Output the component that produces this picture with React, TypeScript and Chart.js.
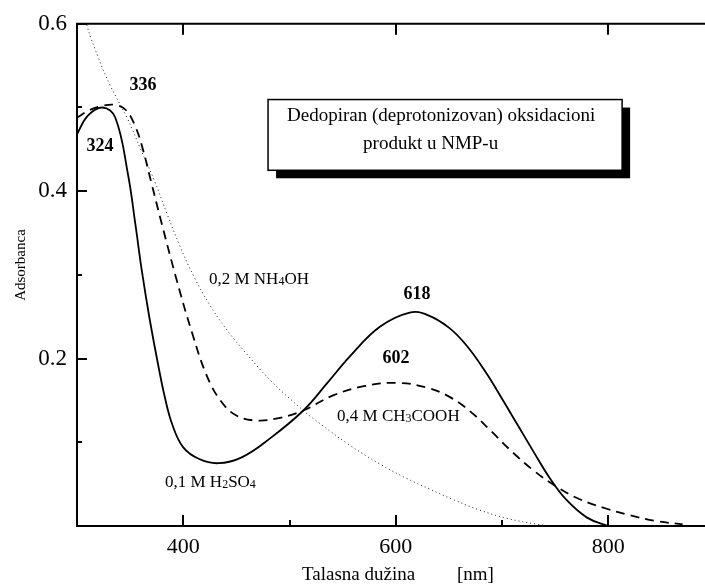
import React, { useEffect, useRef } from 'react';
import { Chart, registerables } from 'chart.js';

Chart.register(...registerables);

// ---- data (wavelength nm, absorbance) ----
const wlH2SO4 = [300, 310, 324, 336, 348, 355, 361, 368, 376, 383, 390, 400, 415, 433, 455, 482, 513, 535, 557, 585, 613, 630, 650, 667, 685, 700, 715, 730, 745, 760, 780, 800];
const absH2SO4 = [0.468, 0.49, 0.5, 0.488, 0.42, 0.36, 0.305, 0.25, 0.195, 0.152, 0.12, 0.094, 0.08, 0.075, 0.082, 0.105, 0.138, 0.17, 0.203, 0.238, 0.255, 0.252, 0.237, 0.215, 0.183, 0.152, 0.12, 0.088, 0.057, 0.032, 0.01, 0.0];

const wlCH3COOH = [300, 312, 324, 336, 346, 355, 362, 370, 380, 394, 408, 422, 435, 450, 469, 490, 513, 541, 570, 602, 630, 651, 670, 690, 710, 730, 750, 773, 800, 820, 845, 870];
const absCH3COOH = [0.488, 0.497, 0.502, 0.503, 0.497, 0.477, 0.45, 0.41, 0.36, 0.293, 0.232, 0.18, 0.15, 0.132, 0.126, 0.129, 0.138, 0.156, 0.167, 0.171, 0.165, 0.154, 0.137, 0.113, 0.088, 0.066, 0.048, 0.032, 0.02, 0.013, 0.006, 0.002];

const wlNH4OH = [300, 309, 320, 331, 347, 360, 373, 385, 397, 410, 425, 440, 456, 482, 513, 529, 555, 585, 610, 632, 655, 679, 705, 733, 745];
const absNH4OH = [0.66, 0.6, 0.56, 0.527, 0.488, 0.45, 0.412, 0.372, 0.334, 0.298, 0.264, 0.236, 0.211, 0.174, 0.138, 0.122, 0.098, 0.074, 0.057, 0.044, 0.031, 0.019, 0.009, 0.002, 0.0];

const xMajorTicks = [400, 600, 800];
const xMinorTicks = [500, 700];
const yMajorTicks = [0.2, 0.4, 0.6];
const yMinorTicks = [0.1, 0.3, 0.5];

const xTitle = 'Talasna dužina';
const xUnit = '[nm]';
const yTitle = 'Adsorbanca';
const boxLine1 = 'Dedopiran (deprotonizovan) oksidacioni';
const boxLine2 = 'produkt u NMP-u';

// peak labels: [text, wavelength, absorbance]
const peakLabels: [string, number, number][] = [
  ['336', 362, 0.526],
  ['324', 321.6, 0.4536],
  ['618', 620, 0.277],
  ['602', 600.2, 0.2],
];

// series labels: segments [text, isSubscript], anchor wavelength, absorbance (left/baseline)
const seriesLabels: { segs: [string, boolean][]; x: number; y: number }[] = [
  { segs: [['0,2 M NH', false], ['4', true], ['OH', false]], x: 424.2, y: 0.289 },
  { segs: [['0,4 M CH', false], ['3', true], ['COOH', false]], x: 544.7, y: 0.126 },
  { segs: [['0,1 M H', false], ['2', true], ['SO', false], ['4', true]], x: 382.8, y: 0.046 },
];

const SERIF = '"Liberation Serif", "Times New Roman", serif';

const toPts = (xs: number[], ys: number[]) => xs.map((x, i) => ({ x, y: ys[i] }));

const decorPlugin = {
  id: 'decor',
  afterDatasetsDraw(chart: any) {
    const { ctx, chartArea: ca, scales } = chart;
    const xs = scales.x;
    const ys = scales.y;
    ctx.save();
    ctx.strokeStyle = '#000';
    ctx.fillStyle = '#000';
    ctx.setLineDash([]);

    // frame
    ctx.lineWidth = 2;
    ctx.beginPath();
    ctx.moveTo(ca.right, ca.top);
    ctx.lineTo(ca.left, ca.top);
    ctx.lineTo(ca.left, ca.bottom);
    ctx.lineTo(ca.right, ca.bottom);
    ctx.stroke();

    // ticks (inward)
    ctx.beginPath();
    xMajorTicks.forEach((v) => {
      const px = Math.round(xs.getPixelForValue(v));
      ctx.moveTo(px, ca.bottom);
      ctx.lineTo(px, ca.bottom - 11);
      ctx.moveTo(px, ca.top);
      ctx.lineTo(px, ca.top + 11);
    });
    xMinorTicks.forEach((v) => {
      const px = Math.round(xs.getPixelForValue(v));
      ctx.moveTo(px, ca.bottom);
      ctx.lineTo(px, ca.bottom - 6);
    });
    yMajorTicks.forEach((v) => {
      const py = Math.round(ys.getPixelForValue(v));
      ctx.moveTo(ca.left, py);
      ctx.lineTo(ca.left + 10, py);
    });
    yMinorTicks.forEach((v) => {
      const py = Math.round(ys.getPixelForValue(v));
      ctx.moveTo(ca.left, py);
      ctx.lineTo(ca.left + 5, py);
    });
    ctx.stroke();

    // info box with shadow
    const bx1 = xs.getPixelForValue(479.8);
    const bx2 = xs.getPixelForValue(813);
    const by1 = ys.getPixelForValue(0.5095);
    const by2 = ys.getPixelForValue(0.425);
    ctx.fillStyle = '#000';
    ctx.fillRect(bx1 + 8, by1 + 8, bx2 - bx1, by2 - by1);
    ctx.fillStyle = '#fff';
    ctx.fillRect(bx1, by1, bx2 - bx1, by2 - by1);
    ctx.lineWidth = 1.5;
    ctx.strokeRect(bx1, by1, bx2 - bx1, by2 - by1);
    ctx.fillStyle = '#000';
    ctx.font = `19px ${SERIF}`;
    ctx.textBaseline = 'alphabetic';
    ctx.textAlign = 'left';
    ctx.fillText(boxLine1, bx1 + 19, by1 + 21);
    ctx.fillText(boxLine2, bx1 + 95, by1 + 49);

    // peak labels
    ctx.font = `bold 18px ${SERIF}`;
    ctx.textAlign = 'center';
    ctx.textBaseline = 'middle';
    peakLabels.forEach(([t, wx, wy]) => {
      ctx.fillText(t, xs.getPixelForValue(wx), ys.getPixelForValue(wy));
    });

    // series labels with subscripts
    ctx.textAlign = 'left';
    ctx.textBaseline = 'alphabetic';
    seriesLabels.forEach((lab) => {
      let px = xs.getPixelForValue(lab.x);
      const py = ys.getPixelForValue(lab.y);
      lab.segs.forEach(([t, sub]) => {
        ctx.font = sub ? `12px ${SERIF}` : `17px ${SERIF}`;
        ctx.fillText(t, px, sub ? py + 1 : py);
        px += ctx.measureText(t).width;
      });
    });

    // axis titles
    ctx.font = `19px ${SERIF}`;
    ctx.textAlign = 'left';
    ctx.textBaseline = 'alphabetic';
    ctx.fillText(xTitle, 302, 580);
    ctx.fillText(xUnit, 457, 580);

    ctx.save();
    ctx.translate(25, 265);
    ctx.rotate(-Math.PI / 2);
    ctx.textAlign = 'center';
    ctx.font = `15px ${SERIF}`;
    ctx.fillText(yTitle, 0, 0);
    ctx.restore();

    ctx.restore();
  },
};

export default function App() {
  const ref = useRef<HTMLCanvasElement | null>(null);

  useEffect(() => {
    document.body.style.margin = '0';
    if (!ref.current) return;
    const chart = new Chart(ref.current, {
      type: 'line',
      data: {
        datasets: [
          {
            label: '0,1 M H2SO4',
            data: toPts(wlH2SO4, absH2SO4),
            borderColor: '#000',
            borderWidth: 1.8,
            pointRadius: 0,
            fill: false,
            tension: 0.4,
          },
          {
            label: '0,4 M CH3COOH',
            data: toPts(wlCH3COOH, absCH3COOH),
            borderColor: '#000',
            borderWidth: 1.8,
            borderDash: [9, 6],
            pointRadius: 0,
            fill: false,
            tension: 0.4,
          },
          {
            label: '0,2 M NH4OH',
            data: toPts(wlNH4OH, absNH4OH),
            borderColor: '#222',
            borderWidth: 1,
            borderDash: [1, 3],
            pointRadius: 0,
            fill: false,
            tension: 0.4,
          },
        ],
      },
      options: {
        responsive: false,
        animation: false,
        events: [],
        layout: { padding: { top: 22, left: 0, right: 0, bottom: 0 } },
        plugins: { legend: { display: false }, tooltip: { enabled: false } },
        scales: {
          x: {
            type: 'linear',
            min: 300,
            max: 891,
            afterBuildTicks: (axis: any) => {
              axis.ticks = xMajorTicks.map((v) => ({ value: v }));
            },
            afterFit: (axis: any) => {
              axis.height = 62;
            },
            grid: { display: false, drawTicks: false },
            border: { display: false },
            ticks: {
              color: '#000',
              padding: 8,
              maxRotation: 0,
              font: { family: SERIF, size: 22 },
            },
          },
          y: {
            min: 0,
            max: 0.6,
            afterBuildTicks: (axis: any) => {
              axis.ticks = yMajorTicks.map((v) => ({ value: v }));
            },
            afterFit: (axis: any) => {
              axis.width = 77;
            },
            grid: { display: false, drawTicks: false },
            border: { display: false },
            ticks: {
              color: '#000',
              padding: 10,
              font: { family: SERIF, size: 23 },
              callback: (v: any) => Number(v).toFixed(1),
            },
          },
        },
      },
      plugins: [decorPlugin],
    });
    return () => chart.destroy();
  }, []);

  return (
    <div style={{ position: 'absolute', left: 0, top: 0, width: 705, height: 588, background: '#fff' }}>
      <canvas ref={ref} width={705} height={588} />
    </div>
  );
}
